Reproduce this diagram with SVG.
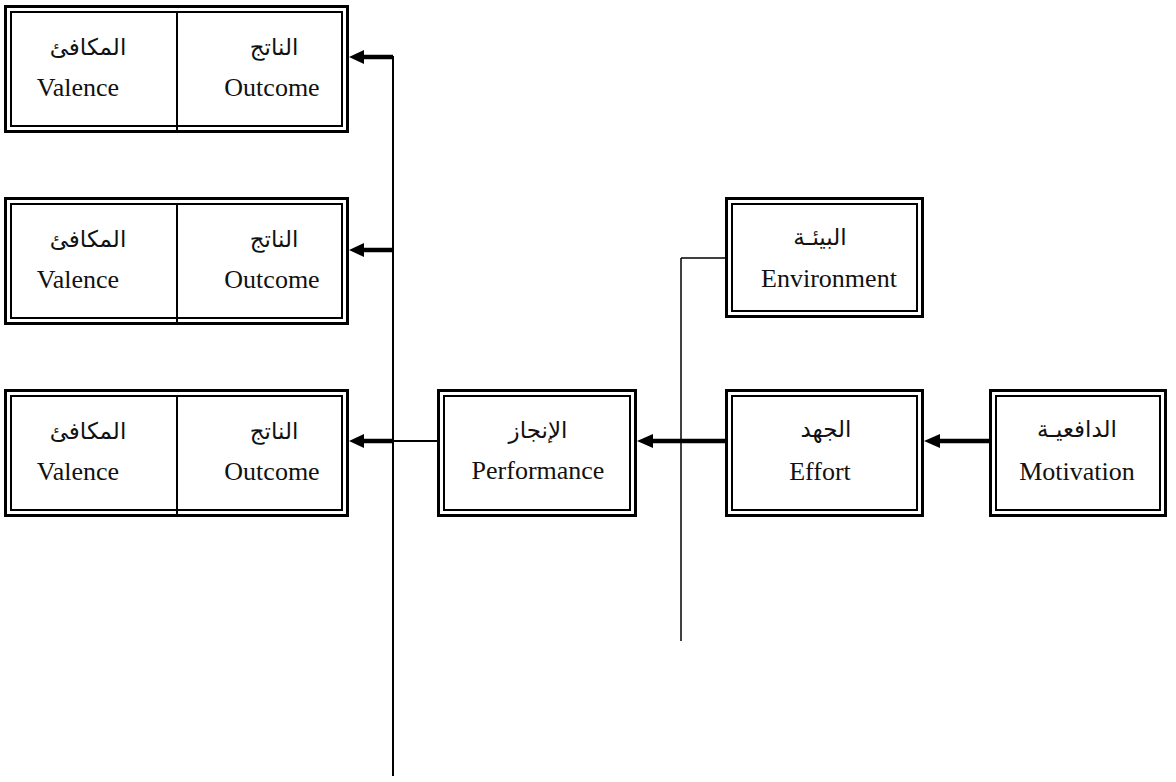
<svg xmlns="http://www.w3.org/2000/svg" width="1176" height="782" viewBox="0 0 1176 782">
<style>
.o{fill:none;stroke:#000;stroke-width:3}
.i{fill:none;stroke:#000;stroke-width:2}
.en{font-family:"Liberation Serif","Times New Roman",serif;font-size:26px;fill:#111;text-anchor:middle}
.ar{font-family:"Liberation Serif","DejaVu Sans","Noto Sans",serif;font-size:23px;fill:#111;text-anchor:middle;direction:rtl}
.thick{stroke:#000;stroke-width:4.5;fill:none}
.thin{stroke:#000;stroke-width:2;fill:none}
.hair{stroke:#000;stroke-width:1.5;fill:none}
</style>
<defs>
<marker id="ah" markerUnits="userSpaceOnUse" markerWidth="16" markerHeight="16" viewBox="0 0 16 16" refX="0" refY="8" orient="auto-start-reverse">
<path d="M0,8 L16,1 L16,15 Z" fill="#000"/>
</marker>
</defs>
<g id="connectors">
<line class="thin" x1="393" y1="56" x2="393" y2="776"/>
<line class="thick" x1="393" y1="57" x2="363" y2="57"/>
<path d="M349,57 L364,50 L364,64 Z" fill="#000"/>
<line class="thick" x1="393" y1="250" x2="363" y2="250"/>
<path d="M349,250 L364,243 L364,257 Z" fill="#000"/>
<line class="thick" x1="393" y1="441" x2="363" y2="441"/>
<path d="M349,441 L364,434 L364,448 Z" fill="#000"/>
<line class="thin" x1="393" y1="441" x2="437" y2="441"/>
<line class="thick" x1="725" y1="441" x2="652" y2="441"/>
<path d="M637,441 L653,434 L653,448 Z" fill="#000"/>
<line class="hair" x1="681" y1="258" x2="681" y2="641"/>
<line class="hair" x1="681" y1="258" x2="725" y2="258"/>
<line class="thick" x1="989" y1="441" x2="939" y2="441"/>
<path d="M924,441 L940,434 L940,448 Z" fill="#000"/>
</g>
<g id="outcome1">
<rect class="o" x="5.5" y="6.5" width="342" height="125"/>
<rect class="i" x="11" y="12" width="331" height="114"/>
<line class="thin" x1="177" y1="12" x2="177" y2="130"/>
<text class="ar" x="274" y="55">الناتج</text>
<text class="en" x="272" y="96">Outcome</text>
<text class="ar" x="88" y="55">المكافئ</text>
<text class="en" x="78" y="96">Valence</text>
</g>
<g id="outcome2">
<rect class="o" x="5.5" y="198.5" width="342" height="125"/>
<rect class="i" x="11" y="204" width="331" height="114"/>
<line class="thin" x1="177" y1="204" x2="177" y2="322"/>
<text class="ar" x="274" y="247">الناتج</text>
<text class="en" x="272" y="288">Outcome</text>
<text class="ar" x="88" y="247">المكافئ</text>
<text class="en" x="78" y="288">Valence</text>
</g>
<g id="outcome3">
<rect class="o" x="5.5" y="390.5" width="342" height="125"/>
<rect class="i" x="11" y="396" width="331" height="114"/>
<line class="thin" x1="177" y1="396" x2="177" y2="514"/>
<text class="ar" x="274" y="439">الناتج</text>
<text class="en" x="272" y="480">Outcome</text>
<text class="ar" x="88" y="439">المكافئ</text>
<text class="en" x="78" y="480">Valence</text>
</g>
<g id="performance">
<rect class="o" x="438.5" y="390.5" width="197" height="125"/>
<rect class="i" x="444" y="396" width="186" height="114"/>
<text class="ar" x="538" y="438">الإنجاز</text>
<text class="en" x="538" y="479">Performance</text>
</g>
<g id="environment">
<rect class="o" x="726.5" y="198.5" width="196" height="118"/>
<rect class="i" x="732" y="204" width="185" height="107"/>
<text class="ar" x="820" y="245">البيئـة</text>
<text class="en" x="829" y="287">Environment</text>
</g>
<g id="effort">
<rect class="o" x="726.5" y="390.5" width="196" height="125"/>
<rect class="i" x="732" y="396" width="185" height="114"/>
<text class="ar" x="826" y="437">الجهد</text>
<text class="en" x="820" y="480">Effort</text>
</g>
<g id="motivation">
<rect class="o" x="990.5" y="390.5" width="175" height="125"/>
<rect class="i" x="996" y="396" width="164" height="114"/>
<text class="ar" x="1077" y="437">الدافعيـة</text>
<text class="en" x="1077" y="480">Motivation</text>
</g>
</svg>
